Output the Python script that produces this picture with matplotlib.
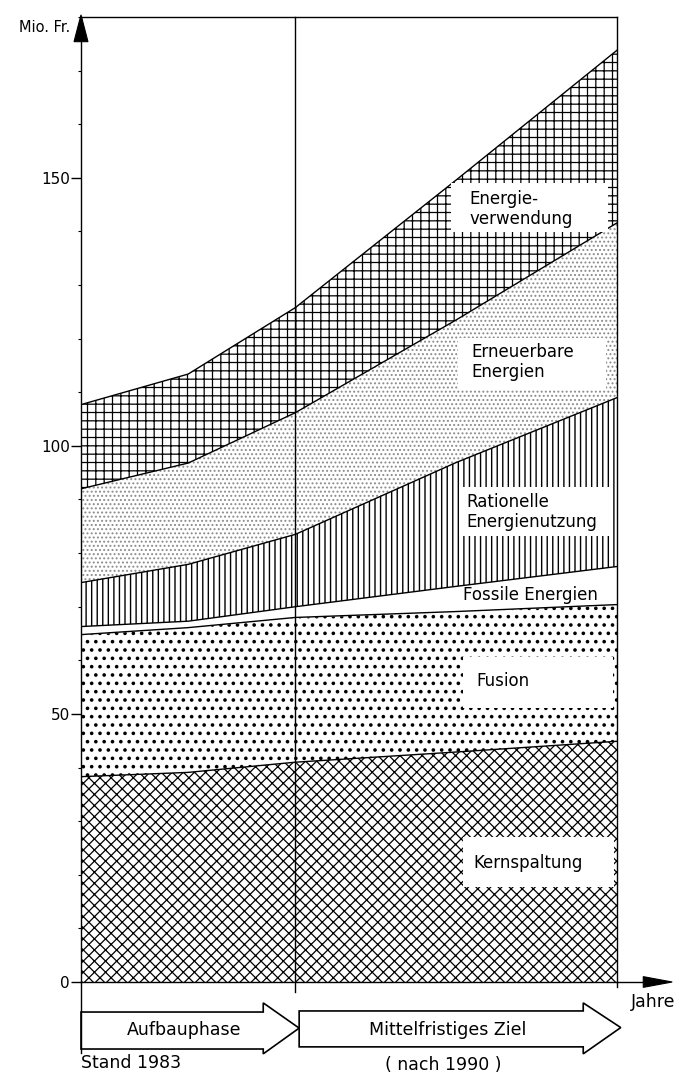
import matplotlib
matplotlib.use('Agg')
import matplotlib.pyplot as plt
import numpy as np
from matplotlib.patches import Polygon, Rectangle
from matplotlib.ticker import MultipleLocator, FixedLocator

plt.rcParams['font.family'] = ['DejaVu Sans']
plt.rcParams['hatch.linewidth'] = 1.0

# ---- data ----
x_pos = [0, 2, 4, 7, 10]
categories = ['Kernspaltung', 'Fusion', 'Fossile Energien',
              'Rationelle\nEnergienutzung', 'Erneuerbare\nEnergien',
              'Energie-\nverwendung']
kernspaltung = [38.3, 39.1, 41.0, 42.9, 44.9]
fusion = [26.5, 27.0, 27.0, 26.2, 25.5]
fossile = [1.5, 1.2, 2.0, 4.7, 7.1]
rationelle = [8.2, 10.6, 13.5, 23.1, 31.5]
erneuerbare = [17.5, 18.9, 22.7, 26.6, 32.6]
energieverwendung = [15.7, 16.6, 19.6, 26.1, 32.2]
y_ticks = [0, 50, 100, 150]
phase_labels = ['Aufbauphase', 'Mittelfristiges Ziel']
phase_notes = ['Stand 1983', '( nach 1990 )']
y_label = 'Mio. Fr.'
x_label = 'Jahre'

layers = [kernspaltung, fusion, fossile, rationelle, erneuerbare, energieverwendung]
hatches = ['xxx', '..', None, '|||', '....', '++']
hatch_colors = ['black', 'black', 'black', 'black', '#8c8c8c', 'black']
hatch_lws = [0.9, 1.4, 1.0, 1.0, 0.9, 0.9]

fig = plt.figure(figsize=(6.81, 10.72), dpi=100)
ax = fig.add_axes([81 / 681, 90 / 1072, 536 / 681, 965 / 1072])
ax.set_xlim(0, 10)
ax.set_ylim(0, 180)

cum = np.zeros(len(x_pos))
for vals, h, hc, hlw in zip(layers, hatches, hatch_colors, hatch_lws):
    lower = cum.copy()
    cum = cum + np.array(vals)
    with plt.rc_context({'hatch.linewidth': hlw}):
        ax.fill_between(x_pos, lower, cum, facecolor='white', edgecolor=hc,
                        hatch=h, linewidth=0, zorder=1)
    ax.plot(x_pos, cum, color='black', lw=1.0, zorder=3)

# label boxes
box_specs = [
    (7.13, 17.7, 2.81, 9.3, 7.32, 22.2),     # Kernspaltung
    (7.13, 51.2, 2.80, 9.5, 7.37, 56.1),     # Fusion
    (None, None, None, None, 7.13, 72.1),    # Fossile
    (7.06, 83.1, 2.83, 9.3, 7.19, 87.6),     # Rationelle
    (7.04, 110.5, 2.76, 9.7, 7.28, 115.6),   # Erneuerbare
    (6.91, 139.9, 2.92, 9.2, 7.24, 144.2),   # Energieverwendung
]
for label, (bx, by, bw, bh, tx, ty) in zip(categories, box_specs):
    if bx is not None:
        ax.add_patch(Rectangle((bx, by), bw, bh, facecolor='white',
                               edgecolor='none', zorder=4))
    ax.text(tx, ty, label, ha='left', va='center', fontsize=12,
            linespacing=1.15, zorder=5)

# middle divider line
ax.plot([4, 4], [-1.9, 180], color='black', lw=1.0, zorder=3, clip_on=False)
# right edge tick below axis
ax.plot([10, 10], [-0.9, 0], color='black', lw=1.0, zorder=3, clip_on=False)

# spines / ticks
for s in ['left', 'top', 'right', 'bottom']:
    ax.spines[s].set_linewidth(1.0)
    ax.spines[s].set_color('black')
    ax.spines[s].set_zorder(6)
ax.set_xticks([])
ax.yaxis.set_major_locator(FixedLocator(y_ticks))
ax.yaxis.set_minor_locator(MultipleLocator(10))
ax.tick_params(axis='y', which='major', direction='out', length=7, width=1,
               labelsize=11, pad=1)
ax.tick_params(axis='y', which='minor', direction='out', length=2.5, width=0.8)

# y axis arrow head and label
ax.add_patch(Polygon([(0, 180.4), (-0.13, 175.4), (0.13, 175.4)], closed=True,
                     facecolor='black', edgecolor='black', lw=0.8,
                     clip_on=False, zorder=7))
ax.text(-0.2, 178.0, y_label, ha='right', va='center', fontsize=10.5)

# x axis extension + arrow head
ax.plot([10, 10.5], [0, 0], color='black', lw=1.0, clip_on=False)
ax.add_patch(Polygon([(10.49, 1.0), (11.03, 0), (10.49, -1.0)], closed=True,
                     facecolor='black', edgecolor='black', lw=0.8,
                     clip_on=False, zorder=7))
ax.text(10.25, -3.7, x_label, ha='left', va='center', fontsize=12.5)

# left line down to bottom
ax.plot([0, 0], [0, -13.3], color='black', lw=1.0, clip_on=False)

# phase arrows
arrow1 = [(0, -5.6), (3.40, -5.6), (3.40, -3.9), (4.07, -8.6),
          (3.40, -13.4), (3.40, -12.5), (0, -12.5)]
arrow2 = [(4.07, -5.4), (9.37, -5.4), (9.37, -3.9), (10.07, -8.5),
          (9.37, -13.4), (9.37, -12.1), (4.07, -12.1)]
for pts in (arrow1, arrow2):
    ax.add_patch(Polygon(pts, closed=True, facecolor='none', edgecolor='black',
                         lw=1.2, clip_on=False, zorder=7))
ax.text(1.92, -8.9, phase_labels[0], ha='center', va='center', fontsize=12.5)
ax.text(6.85, -8.9, phase_labels[1], ha='center', va='center', fontsize=12.5)
ax.text(0.0, -15.2, phase_notes[0], ha='left', va='center', fontsize=12.5)
ax.text(6.75, -15.5, phase_notes[1], ha='center', va='center', fontsize=12.5)

fig.savefig('out.png', dpi=100)
